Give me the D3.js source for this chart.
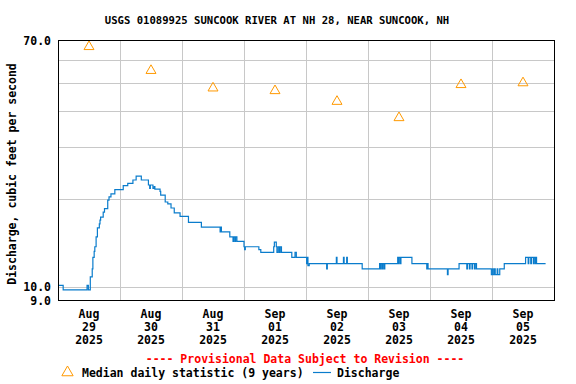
<!DOCTYPE html>
<html>
<head>
<meta charset="utf-8">
<script src="https://cdn.jsdelivr.net/npm/d3@7"></script>
<style>
  body { margin: 0; background: #fff; }
  text { font-family: "DejaVu Sans Mono", monospace; font-weight: bold; }
</style>
</head>
<body>
<div id="chart"></div>
<script>
const width = 576, height = 384;
const margin = { left: 58, right: 22, top: 40, bottom: 84 };

const title = "USGS 01089925 SUNCOOK RIVER AT NH 28, NEAR SUNCOOK, NH";
const yLabel = "Discharge, cubic feet per second";

// one label per day, median triangles sit at noon
const days = ["2025-08-29", "2025-08-30", "2025-08-31", "2025-09-01",
              "2025-09-02", "2025-09-03", "2025-09-04", "2025-09-05"];
const medianValues = [66.4, 55.0, 47.9, 46.9, 43.1, 37.9, 49.2, 49.9];

const yTickValues = [9, 10, 70];
const yGridValues = [10, 20, 30, 40, 50, 60];

// discharge readings (step changes only)
const discharge = [
  ["2025-08-29 00:00", 10.1], ["2025-08-29 02:00", 9.75], ["2025-08-29 11:15", 10.1],
  ["2025-08-29 11:45", 9.75], ["2025-08-29 12:30", 10.8], ["2025-08-29 13:15", 11.5],
  ["2025-08-29 13:30", 12.6], ["2025-08-29 14:00", 13.2], ["2025-08-29 14:15", 13.7],
  ["2025-08-29 14:45", 14.8], ["2025-08-29 15:15", 15.9], ["2025-08-29 16:00", 16.4],
  ["2025-08-29 16:15", 16.9], ["2025-08-29 16:30", 17.3], ["2025-08-29 17:30", 18.0],
  ["2025-08-29 18:00", 18.5], ["2025-08-29 19:15", 19.8], ["2025-08-29 19:45", 20.3],
  ["2025-08-29 20:30", 20.8], ["2025-08-29 22:00", 21.5], ["2025-08-30 01:15", 22.2],
  ["2025-08-30 03:00", 22.6], ["2025-08-30 05:00", 23.2], ["2025-08-30 06:15", 23.9],
  ["2025-08-30 08:15", 23.2], ["2025-08-30 11:00", 22.3], ["2025-08-30 11:30", 21.7],
  ["2025-08-30 11:45", 22.3], ["2025-08-30 12:45", 21.7], ["2025-08-30 13:15", 22.0],
  ["2025-08-30 13:30", 21.6], ["2025-08-30 15:30", 21.2], ["2025-08-30 15:45", 20.6],
  ["2025-08-30 17:30", 19.5], ["2025-08-30 18:30", 19.2], ["2025-08-30 19:45", 18.6],
  ["2025-08-30 21:00", 17.9], ["2025-08-30 23:15", 17.4], ["2025-08-31 02:30", 16.6],
  ["2025-08-31 07:30", 16.0], ["2025-08-31 14:45", 15.4], ["2025-08-31 15:00", 16.0],
  ["2025-08-31 15:15", 15.4], ["2025-08-31 18:30", 14.8], ["2025-08-31 19:45", 14.3],
  ["2025-08-31 20:00", 14.8], ["2025-08-31 20:30", 14.3], ["2025-08-31 20:45", 14.8],
  ["2025-08-31 21:15", 14.3], ["2025-09-01 00:00", 13.7], ["2025-09-01 00:15", 13.4],
  ["2025-09-01 00:30", 13.7], ["2025-09-01 05:45", 13.4], ["2025-09-01 06:30", 13.1],
  ["2025-09-01 11:30", 13.7], ["2025-09-01 11:45", 14.2], ["2025-09-01 12:30", 13.7],
  ["2025-09-01 12:45", 13.1], ["2025-09-01 13:15", 13.7], ["2025-09-01 13:45", 13.1],
  ["2025-09-01 14:00", 13.7], ["2025-09-01 14:30", 13.1], ["2025-09-01 18:30", 12.6],
  ["2025-09-01 19:45", 13.1], ["2025-09-01 20:15", 12.6], ["2025-09-02 00:15", 12.0],
  ["2025-09-02 00:30", 12.6], ["2025-09-02 00:45", 11.8], ["2025-09-02 01:15", 12.0],
  ["2025-09-02 08:00", 11.5], ["2025-09-02 08:15", 12.0], ["2025-09-02 11:45", 12.6],
  ["2025-09-02 12:00", 12.0], ["2025-09-02 14:30", 12.6], ["2025-09-02 14:45", 12.0],
  ["2025-09-02 15:45", 12.6], ["2025-09-02 16:00", 12.0], ["2025-09-02 21:45", 11.5],
  ["2025-09-03 04:30", 12.0], ["2025-09-03 04:45", 11.5], ["2025-09-03 05:00", 12.0],
  ["2025-09-03 05:30", 11.5], ["2025-09-03 05:45", 12.0], ["2025-09-03 06:15", 11.5],
  ["2025-09-03 06:30", 12.0], ["2025-09-03 11:30", 12.6], ["2025-09-03 11:45", 12.0],
  ["2025-09-03 12:00", 12.6], ["2025-09-03 12:30", 12.0], ["2025-09-03 12:45", 12.6],
  ["2025-09-03 17:00", 12.0], ["2025-09-03 22:45", 11.5], ["2025-09-03 23:00", 12.0],
  ["2025-09-03 23:15", 11.5], ["2025-09-04 06:45", 11.0], ["2025-09-04 07:00", 11.5],
  ["2025-09-04 11:15", 12.0], ["2025-09-04 14:15", 11.5], ["2025-09-04 14:30", 12.0],
  ["2025-09-04 15:15", 11.5], ["2025-09-04 15:30", 12.0], ["2025-09-04 16:15", 11.5],
  ["2025-09-04 16:30", 12.0], ["2025-09-04 17:15", 11.5], ["2025-09-04 17:30", 12.0],
  ["2025-09-04 18:00", 11.5], ["2025-09-04 23:45", 11.0], ["2025-09-05 00:15", 11.5],
  ["2025-09-05 00:30", 11.0], ["2025-09-05 01:00", 11.5], ["2025-09-05 01:15", 11.0],
  ["2025-09-05 02:00", 11.5], ["2025-09-05 02:15", 11.0], ["2025-09-05 03:00", 11.5],
  ["2025-09-05 04:45", 12.0], ["2025-09-05 13:00", 12.6], ["2025-09-05 14:00", 12.0],
  ["2025-09-05 14:15", 12.6], ["2025-09-05 15:00", 12.0], ["2025-09-05 15:15", 12.6],
  ["2025-09-05 16:00", 12.0], ["2025-09-05 16:15", 12.6], ["2025-09-05 16:45", 12.0],
  ["2025-09-05 17:00", 12.6], ["2025-09-05 17:15", 12.0], ["2025-09-05 20:45", 12.0]
];

const parseTime = d3.utcParse("%Y-%m-%d %H:%M");
const parseDay = d3.utcParse("%Y-%m-%d");

const svg = d3.select("#chart")
  .append("svg")
    .attr("width", width)
    .attr("height", height);

const x = d3.scaleUtc()
  .domain([parseDay(days[0]), d3.utcDay.offset(parseDay(days[days.length - 1]), 1)])
  .range([margin.left, width - margin.right]);

const y = d3.scaleLog()
  .domain([9, 70])
  .range([height - margin.bottom, margin.top]);

const noon = d => d3.utcHour.offset(parseDay(d), 12);

// grid
const grid = svg.append("g")
  .attr("stroke", "#c8c8c8")
  .attr("shape-rendering", "crispEdges");

grid.selectAll(".vgrid")
  .data(days.slice(1))
  .join("line")
    .attr("x1", d => Math.round(x(parseDay(d))) + 0.5)
    .attr("x2", d => Math.round(x(parseDay(d))) + 0.5)
    .attr("y1", y(70))
    .attr("y2", y(9));

grid.selectAll(".hgrid")
  .data(yGridValues)
  .join("line")
    .attr("x1", x.range()[0])
    .attr("x2", x.range()[1])
    .attr("y1", d => Math.round(y(d)) + 0.5)
    .attr("y2", d => Math.round(y(d)) + 0.5);

// discharge step line
const line = d3.line()
  .x(d => x(parseTime(d[0])))
  .y(d => y(d[1]))
  .curve(d3.curveStepAfter);

svg.append("path")
  .datum(discharge)
  .attr("fill", "none")
  .attr("stroke", "#0a7ccc")
  .attr("stroke-width", 1.2)
  .attr("d", line);

// median triangles
const tri = d3.symbol().type(d3.symbolTriangle).size(43);
svg.selectAll(".median")
  .data(days)
  .join("path")
    .attr("transform", (d, i) => `translate(${x(noon(d))},${y(medianValues[i])})`)
    .attr("d", tri)
    .attr("fill", "none")
    .attr("stroke", "#ff9900")
    .attr("stroke-width", 1);

// frame
svg.append("rect")
  .attr("x", x.range()[0] + 0.5)
  .attr("y", y(70) + 0.5)
  .attr("width", x.range()[1] - x.range()[0])
  .attr("height", y(9) - y(70))
  .attr("fill", "none")
  .attr("stroke", "#000")
  .attr("shape-rendering", "crispEdges");

// y tick labels
svg.selectAll(".ytick")
  .data(yTickValues)
  .join("text")
    .attr("x", 51)
    .attr("y", d => y(d) + 4.5)
    .attr("text-anchor", "end")
    .attr("font-size", 11.5)
    .text(d => d3.format(".1f")(d));

// x tick labels, 3 lines each
const fmts = [d3.utcFormat("%b"), d3.utcFormat("%d"), d3.utcFormat("%Y")];
const xt = svg.selectAll(".xtick")
  .data(days)
  .join("text")
    .attr("text-anchor", "middle")
    .attr("font-size", 11.5);
fmts.forEach((f, i) => {
  xt.append("tspan")
    .attr("x", d => x(noon(d)))
    .attr("y", 318 + i * 13)
    .text(d => f(parseDay(d)));
});

// title
svg.append("text")
  .attr("x", 277)
  .attr("y", 24)
  .attr("text-anchor", "middle")
  .attr("font-size", 10.6)
  .text(title);

// y label
svg.append("text")
  .attr("transform", "translate(15.5,174) rotate(-90)")
  .attr("text-anchor", "middle")
  .attr("font-size", 11.5)
  .text(yLabel);

// provisional note
svg.append("text")
  .attr("x", 305)
  .attr("y", 363)
  .attr("text-anchor", "middle")
  .attr("font-size", 11.5)
  .attr("fill", "#ff0000")
  .text("---- Provisional Data Subject to Revision ----");

// legend
const legend = svg.append("g");
legend.append("path")
  .attr("transform", "translate(67.5,372.5)")
  .attr("d", d3.symbol().type(d3.symbolTriangle).size(55))
  .attr("fill", "none")
  .attr("stroke", "#ff9900");
legend.append("text")
  .attr("x", 82)
  .attr("y", 376.5)
  .attr("font-size", 11.5)
  .text("Median daily statistic (9 years)");
legend.append("line")
  .attr("x1", 313).attr("x2", 331)
  .attr("y1", 372.5).attr("y2", 372.5)
  .attr("stroke", "#0a7ccc")
  .attr("stroke-width", 1.2);
legend.append("text")
  .attr("x", 337)
  .attr("y", 376.5)
  .attr("font-size", 11.5)
  .text("Discharge");
</script>
</body>
</html>
